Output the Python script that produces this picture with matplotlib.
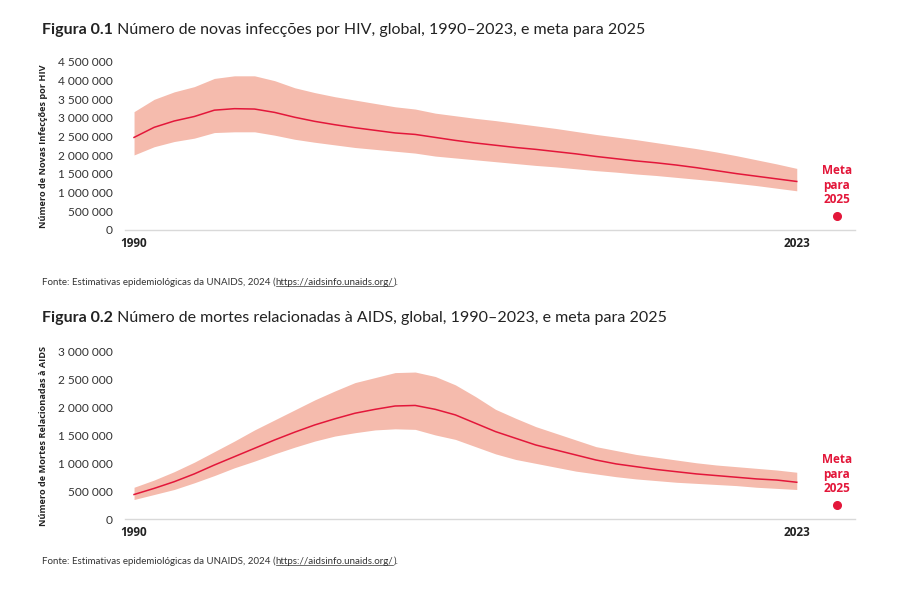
import matplotlib
matplotlib.use("Agg")
import matplotlib.pyplot as plt
from matplotlib.lines import Line2D

plt.rcParams['font.family'] = ['Lato', 'DejaVu Sans']

# anos 1990..2023
anos = list(range(1990, 2024))

# Figura 0.1 - novas infecções (milhões)
inf_central = [2.48, 2.75, 2.92, 3.04, 3.21, 3.25, 3.24, 3.15, 3.02, 2.91,
               2.82, 2.74, 2.67, 2.60, 2.56, 2.48, 2.40, 2.33, 2.27, 2.21,
               2.16, 2.10, 2.04, 1.97, 1.91, 1.85, 1.80, 1.74, 1.67, 1.59,
               1.51, 1.44, 1.37, 1.30]
inf_alto = [3.17, 3.50, 3.70, 3.84, 4.06, 4.13, 4.13, 4.00, 3.81, 3.68,
            3.57, 3.48, 3.39, 3.30, 3.24, 3.13, 3.06, 2.99, 2.93, 2.86,
            2.79, 2.72, 2.64, 2.56, 2.49, 2.42, 2.34, 2.26, 2.18, 2.09,
            1.99, 1.88, 1.77, 1.65]
inf_baixo = [2.01, 2.23, 2.37, 2.46, 2.61, 2.63, 2.63, 2.54, 2.43, 2.35,
             2.28, 2.21, 2.16, 2.11, 2.06, 1.98, 1.93, 1.88, 1.83, 1.78,
             1.73, 1.69, 1.64, 1.59, 1.55, 1.50, 1.46, 1.41, 1.36, 1.31,
             1.25, 1.19, 1.12, 1.05]
inf_meta = 370000

# Figura 0.2 - mortes relacionadas à AIDS (milhões)
mor_central = [0.44, 0.55, 0.67, 0.81, 0.97, 1.12, 1.27, 1.42, 1.56, 1.69,
               1.80, 1.90, 1.97, 2.03, 2.04, 1.97, 1.87, 1.72, 1.57, 1.45,
               1.33, 1.24, 1.15, 1.06, 0.99, 0.94, 0.89, 0.85, 0.81, 0.78,
               0.75, 0.72, 0.70, 0.66]
mor_alto = [0.57, 0.70, 0.85, 1.02, 1.21, 1.40, 1.60, 1.78, 1.96, 2.14,
            2.30, 2.45, 2.54, 2.63, 2.64, 2.56, 2.41, 2.20, 1.97, 1.81,
            1.66, 1.54, 1.42, 1.30, 1.23, 1.16, 1.11, 1.06, 1.01, 0.97,
            0.94, 0.91, 0.88, 0.84]
mor_baixo = [0.35, 0.44, 0.53, 0.65, 0.78, 0.92, 1.04, 1.17, 1.29, 1.40,
             1.49, 1.55, 1.60, 1.62, 1.61, 1.51, 1.43, 1.30, 1.17, 1.07,
             1.00, 0.93, 0.86, 0.81, 0.76, 0.72, 0.69, 0.66, 0.64, 0.62,
             0.60, 0.57, 0.55, 0.53]
mor_meta = 250000

ano_meta = 2025
ticks_inf = [0, 500000, 1000000, 1500000, 2000000, 2500000, 3000000, 3500000, 4000000, 4500000]
ticks_mor = [0, 500000, 1000000, 1500000, 2000000, 2500000, 3000000]

VERMELHO = "#e3173a"
FAIXA = "#f5bbad"
CINZA = "#333333"
ESCURO = "#222222"

fig = plt.figure(figsize=(9, 6), dpi=100)


def milhares(v):
    return "{:,}".format(int(v)).replace(",", " ")


def desenha(ax, central, alto, baixo, meta, ticks, ylabel):
    c = [v * 1e6 for v in central]
    a = [v * 1e6 for v in alto]
    b = [v * 1e6 for v in baixo]
    ax.fill_between(anos, b, a, color=FAIXA, lw=0)
    ax.plot(anos, c, color=VERMELHO, lw=1.1)
    ax.plot([ano_meta], [meta], "o", color=VERMELHO, ms=5.5)
    ax.annotate("Meta\npara\n2025", (ano_meta, meta), xytext=(0, 7),
                textcoords="offset points", ha="center", va="bottom",
                color=VERMELHO, fontsize=8.5, fontweight="bold", linespacing=1.15,
                family=["Open Sans", "DejaVu Sans"])
    ax.set_xlim(1989.55, 2025.9)
    ax.set_ylim(0, ticks[-1])
    for s in ["top", "right", "left"]:
        ax.spines[s].set_visible(False)
    ax.spines["bottom"].set_color("#d9d9d9")
    ax.spines["bottom"].set_linewidth(1)
    ax.set_yticks(ticks)
    ax.set_yticklabels([milhares(t) for t in ticks], fontsize=8.6, color=CINZA)
    ax.set_xticks([1990, 2023])
    ax.set_xticklabels(["1990", "2023"], fontsize=8.5, fontweight="bold", color=ESCURO,
                       family=["Open Sans", "DejaVu Sans"])
    ax.tick_params(axis="y", length=0, pad=9)
    ax.tick_params(axis="x", length=0, pad=5)
    ax.set_ylabel(ylabel, fontsize=6.6, fontweight="bold", color=ESCURO,
                  family=["Open Sans", "DejaVu Sans"])
    ax.yaxis.set_label_coords(-0.106, 0.5)


ax1 = fig.add_axes([125 / 900, 1 - 230 / 600, 730 / 900, 168 / 600])
desenha(ax1, inf_central, inf_alto, inf_baixo, inf_meta, ticks_inf,
        "Número de Novas Infecções por HIV")

ax2 = fig.add_axes([125 / 900, 1 - 519 / 600, 730 / 900, 167 / 600])
desenha(ax2, mor_central, mor_alto, mor_baixo, mor_meta, ticks_mor,
        "Número de Mortes Relacionadas à AIDS")


# títulos: parte em negrito e parte normal
def titulo(y, num, texto):
    t = fig.text(42 / 900, y, num, fontsize=11.5, fontweight="bold", color=ESCURO)
    plt.annotate(" " + texto, xy=(1, 0), xycoords=t, va="bottom", fontsize=11.5,
                 color=ESCURO, annotation_clip=False)


titulo(1 - 34 / 600, "Figura 0.1",
       "Número de novas infecções por HIV, global, 1990–2023, e meta para 2025")
titulo(1 - 322 / 600, "Figura 0.2",
       "Número de mortes relacionadas à AIDS, global, 1990–2023, e meta para 2025")


# fonte com link sublinhado
def fonte(y):
    p1 = fig.text(42 / 900, y, "Fonte: Estimativas epidemiológicas da UNAIDS, 2024 (",
                  fontsize=7, color=CINZA)
    url = plt.annotate("https://aidsinfo.unaids.org/", xy=(1, 0), xycoords=p1, va="bottom",
                       fontsize=7, color=CINZA, annotation_clip=False)
    plt.annotate(").", xy=(1, 0), xycoords=url, va="bottom",
                 fontsize=7, color=CINZA, annotation_clip=False)
    return url


urls = [fonte(1 - 285 / 600), fonte(1 - 564 / 600)]

fig.canvas.draw()
r = fig.canvas.get_renderer()
for u in urls:
    bb = u.get_window_extent(r)
    yy = bb.y0 + 1.5
    fig.add_artist(Line2D([bb.x0 / 900, bb.x1 / 900], [yy / 600, yy / 600],
                          transform=fig.transFigure, color=CINZA, lw=0.5))

fig.savefig("out.png", dpi=100)
